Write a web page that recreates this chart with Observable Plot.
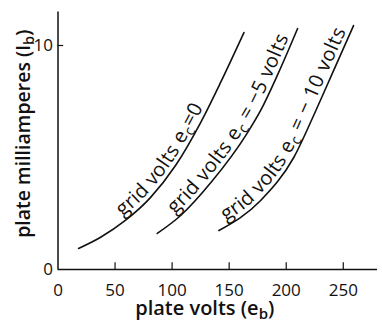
<!DOCTYPE html>
<html><head><meta charset="utf-8">
<script src="https://cdn.jsdelivr.net/npm/d3@7"></script>
<script src="https://cdn.jsdelivr.net/npm/@observablehq/plot@0.6"></script>
<style>body{margin:0;background:#fff}svg{display:block}</style>
</head><body><div id="chart"></div>
<script>
// plate volts (e_b) vs plate milliamperes (I_b), one curve per grid voltage
const seriesNames = ["ec0", "ec-5", "ec-10"];
const curve0X = [18, 37, 59, 81, 103, 125, 142.5, 163];
const curve0Y = [0.94, 1.43, 2.19, 3.21, 4.64, 6.56, 8.35, 10.58];
const curve5X = [87, 107.5, 134, 166, 177.6, 192.5, 210];
const curve5Y = [1.61, 2.41, 3.88, 6.1, 7.1, 8.7, 10.76];
const curve10X = [141, 177.6, 206.6, 226, 241.7, 259];
const curve10Y = [1.74, 3.08, 5.0, 7.1, 8.9, 10.89];
const curveLabels = ["grid volts e_c=0", "grid volts e_c = −5 volts", "grid volts e_c = − 10 volts"];
const xTickValues = [0, 50, 100, 150, 200, 250];
const yTickValues = [0, 10];
const xTitle = "plate volts (e_b)";
const yTitle = "plate milliamperes (I_b)";

const xs = [curve0X, curve5X, curve10X];
const ys = [curve0Y, curve5Y, curve10Y];
const rows = [];
seriesNames.forEach((s, i) => xs[i].forEach((x, j) => rows.push({series: s, x, y: ys[i][j]})));

const font = "'Open Sans', 'DejaVu Sans', sans-serif";
const plot = Plot.plot({
  width: 382, height: 321,
  marginLeft: 57.5, marginRight: 5, marginTop: 11.4, marginBottom: 52,
  x: {domain: [0, 280], label: null, axis: null},
  y: {domain: [0, 11.5], label: null, axis: null},
  style: {fontFamily: font, fontSize: "17px", color: "#111", background: "white"},
  marks: [
    Plot.ruleY([0], {x1: 0, x2: 280, strokeWidth: 1.5, stroke: "#111"}),
    Plot.ruleX([0], {y1: 0, y2: 11.5, strokeWidth: 1.5, stroke: "#111"}),
    Plot.ruleX(xTickValues.filter(d => d > 0), {y1: 0, y2: 0.3, strokeWidth: 1.2, stroke: "#111"}),
    Plot.ruleY(yTickValues.filter(d => d > 0), {x1: 0, x2: 5, strokeWidth: 1.2, stroke: "#111"}),
    Plot.axisX(xTickValues, {tickSize: 0, tickPadding: 14, fontSize: 17, label: null}),
    Plot.axisY(yTickValues, {tickSize: 0, tickPadding: 5, fontSize: 17, label: null}),
    Plot.line(rows, {x: "x", y: "y", z: "series", curve: "monotone-x", stroke: "#111", strokeWidth: 1.6}),
    Plot.text([xTitle], {frameAnchor: "bottom", text: d => d, dx: -13, dy: 45, fontSize: 20, fontWeight: 600}),
    Plot.text([yTitle], {frameAnchor: "left", text: d => d, rotate: -90, textAnchor: "middle", dx: -34, dy: -7, fontSize: 19.5, fontWeight: 600})
  ]
});

const NS = "http://www.w3.org/2000/svg";
function fillWithSubscripts(el, str) {
  el.textContent = "";
  str.split(/(_\w)/).forEach(part => {
    if (!part) return;
    const t = document.createElementNS(NS, "tspan");
    if (part[0] === "_") {
      t.textContent = part.slice(1);
      t.setAttribute("baseline-shift", "-28%");
      t.setAttribute("font-size", "75%");
    } else t.textContent = part;
    el.appendChild(t);
  });
}
plot.querySelectorAll("text").forEach(t => {
  if (t.textContent.includes("_")) fillWithSubscripts(t, t.textContent);
});

// curve labels follow each line
const startOffsets = [55, 26, 11];
const paths = plot.querySelectorAll('g[aria-label="line"] path');
const labelG = document.createElementNS(NS, "g");
labelG.setAttribute("text-anchor", "start");
paths.forEach((p, i) => {
  p.setAttribute("id", "curve" + i);
  const text = document.createElementNS(NS, "text");
  text.setAttribute("font-size", "20");
  text.setAttribute("letter-spacing", "0.5");
  text.setAttribute("fill", "#111");
  text.setAttribute("text-anchor", "start");
  text.setAttribute("dy", "-4");
  const tp = document.createElementNS(NS, "textPath");
  tp.setAttribute("href", "#curve" + i);
  tp.setAttribute("startOffset", startOffsets[i]);
  fillWithSubscripts(tp, curveLabels[i]);
  text.appendChild(tp);
  labelG.appendChild(text);
});
plot.appendChild(labelG);
document.getElementById("chart").appendChild(plot);
</script>
</body></html>
